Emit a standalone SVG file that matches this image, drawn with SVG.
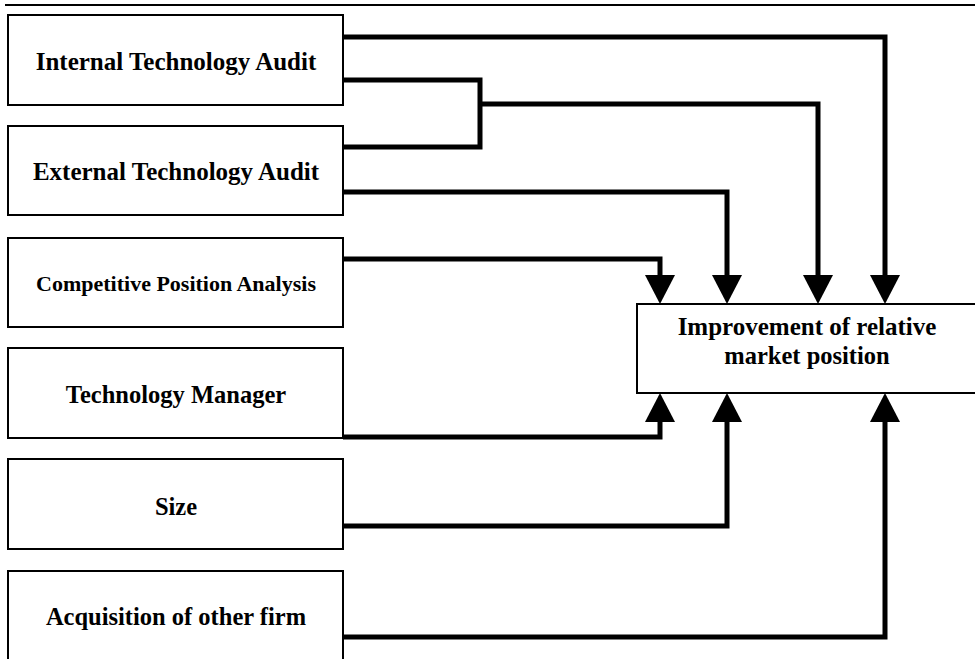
<svg xmlns="http://www.w3.org/2000/svg" width="975" height="659" viewBox="0 0 975 659">
<style>
.box{fill:#fff;stroke:#000;stroke-width:2}
.lbl{font-family:"Liberation Serif","Times New Roman",serif;font-weight:bold;font-size:24.5px;fill:#000;text-anchor:middle}
.con{fill:none;stroke:#000;stroke-width:5;stroke-linejoin:miter}
</style>
<defs>
<marker id="arr" markerUnits="userSpaceOnUse" markerWidth="29" markerHeight="30" viewBox="0 0 29 30" refX="0" refY="15" orient="auto">
<path d="M0,0 L29,15 L0,30 z" fill="#000"/>
</marker>
</defs>
<rect width="975" height="659" fill="#fff"/>
<line x1="5" y1="5" x2="975" y2="5" stroke="#000" stroke-width="2"/>
<g id="connectors">
<path class="con" d="M343,37 H885 V275" marker-end="url(#arr)"/>
<path class="con" d="M343,80 H480 V147 H343"/>
<path class="con" d="M480,104 H818 V275" marker-end="url(#arr)"/>
<path class="con" d="M343,192 H727 V275" marker-end="url(#arr)"/>
<path class="con" d="M343,259 H660 V275" marker-end="url(#arr)"/>
<path class="con" d="M343,437 H660 V422" marker-end="url(#arr)"/>
<path class="con" d="M343,526 H727 V422" marker-end="url(#arr)"/>
<path class="con" d="M343,637 H885 V422" marker-end="url(#arr)"/>
</g>
<g id="internal">
<rect class="box" x="8" y="15" width="335" height="90"/>
<text class="lbl" x="176" y="70" style="font-size:25px">Internal Technology Audit</text>
</g>
<g id="external">
<rect class="box" x="8" y="126" width="335" height="89"/>
<text class="lbl" x="176" y="180" style="font-size:25px">External Technology Audit</text>
</g>
<g id="competitive">
<rect class="box" x="8" y="238" width="335" height="89"/>
<text class="lbl" x="176" y="291" style="font-size:22px">Competitive Position Analysis</text>
</g>
<g id="manager">
<rect class="box" x="8" y="348" width="335" height="90"/>
<text class="lbl" x="176" y="403">Technology Manager</text>
</g>
<g id="size">
<rect class="box" x="8" y="459" width="335" height="90"/>
<text class="lbl" x="176" y="515">Size</text>
</g>
<g id="acquisition">
<rect class="box" x="8" y="571" width="335" height="100"/>
<text class="lbl" x="176" y="625">Acquisition of other firm</text>
</g>
<g id="target">
<rect class="box" x="637" y="304" width="350" height="89"/>
<text class="lbl" x="807" y="335" style="font-size:25px">Improvement of relative</text>
<text class="lbl" x="807" y="364">market position</text>
</g>
</svg>
